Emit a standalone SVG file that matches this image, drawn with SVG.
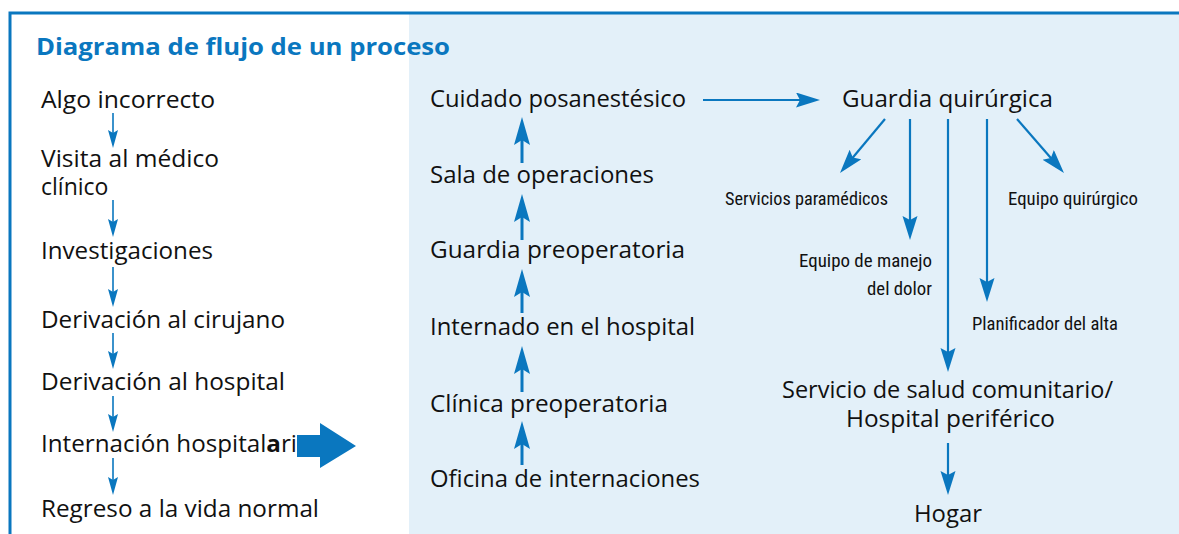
<svg xmlns="http://www.w3.org/2000/svg" width="1179" height="534" viewBox="0 0 1179 534">
<style>
.t{font-family:"Open Sans","Noto Sans","Liberation Sans",sans-serif;font-size:23px;fill:#111}
.s{font-family:"Liberation Sans Narrow","Roboto Condensed","Liberation Sans",sans-serif;font-size:19px;fill:#111}
.title{font-family:"Open Sans","Noto Sans","Liberation Sans",sans-serif;font-size:24px;font-weight:bold;fill:#0a77bf}
.thin{stroke:#0a77bf;stroke-width:1.6;fill:none}
.med{stroke:#0a77bf;stroke-width:2.2;fill:none}
.thick{stroke:#0a77bf;stroke-width:3;fill:none}
</style>
<defs>
<marker id="sm" markerUnits="userSpaceOnUse" markerWidth="18" markerHeight="10" refX="12" refY="5" orient="auto">
<path d="M0,0 L18,5 L0,10 L3,5 z" fill="#0a77bf"/>
</marker>
<marker id="bg" markerUnits="userSpaceOnUse" markerWidth="24" markerHeight="16" refX="14" refY="7.5" orient="auto">
<path d="M0,0 L24,7.5 L0,15 L4,7.5 z" fill="#0a77bf"/>
</marker>
<marker id="mid" markerUnits="userSpaceOnUse" markerWidth="28" markerHeight="16" refX="16" refY="8" orient="auto">
<path d="M0,0 L28,8 L0,16 L5,8 z" fill="#0a77bf"/>
</marker>
</defs>
<rect x="409" y="14" width="770" height="520" fill="#e3f0f9"/>
<path d="M10,534 L10,13 L1179,13" stroke="#0a77bf" stroke-width="3" fill="none"/>
<text class="title" x="36" y="55" textLength="414" lengthAdjust="spacingAndGlyphs">Diagrama de flujo de un proceso</text>

<g id="left-nodes">
<g id="n-algo"><text class="t" x="41" y="108" textLength="174" lengthAdjust="spacingAndGlyphs">Algo incorrecto</text></g>
<g id="n-visita"><text class="t" x="41" y="167" textLength="178" lengthAdjust="spacingAndGlyphs">Visita al médico</text><text class="t" x="41" y="195">clínico</text></g>
<g id="n-invest"><text class="t" x="41" y="259" textLength="172" lengthAdjust="spacingAndGlyphs">Investigaciones</text></g>
<g id="n-dercir"><text class="t" x="41" y="328" textLength="244" lengthAdjust="spacingAndGlyphs">Derivación al cirujano</text></g>
<g id="n-derhosp"><text class="t" x="41" y="390" textLength="244" lengthAdjust="spacingAndGlyphs">Derivación al hospital</text></g>
<g id="n-intern"><text class="t" x="41" y="452" textLength="256" lengthAdjust="spacingAndGlyphs">Internación hospital<tspan font-weight="bold">a</tspan>ri</text></g>
<g id="n-regreso"><text class="t" x="41" y="517" textLength="278" lengthAdjust="spacingAndGlyphs">Regreso a la vida normal</text></g>
</g>

<g id="mid-nodes">
<g id="n-cuidado"><text class="t" x="430" y="107" textLength="256" lengthAdjust="spacingAndGlyphs">Cuidado posanestésico</text></g>
<g id="n-sala"><text class="t" x="430" y="183" textLength="224" lengthAdjust="spacingAndGlyphs">Sala de operaciones</text></g>
<g id="n-guardiapre"><text class="t" x="430" y="258" textLength="255" lengthAdjust="spacingAndGlyphs">Guardia preoperatoria</text></g>
<g id="n-internado"><text class="t" x="430" y="335" textLength="265" lengthAdjust="spacingAndGlyphs">Internado en el hospital</text></g>
<g id="n-clinica"><text class="t" x="430" y="412" textLength="238" lengthAdjust="spacingAndGlyphs">Clínica preoperatoria</text></g>
<g id="n-oficina"><text class="t" x="430" y="487" textLength="270" lengthAdjust="spacingAndGlyphs">Oficina de internaciones</text></g>
</g>

<g id="right-nodes">
<g id="n-guardiaq"><text class="t" x="842" y="107" textLength="211" lengthAdjust="spacingAndGlyphs">Guardia quirúrgica</text></g>
<g id="n-servpara"><text class="s" x="725" y="205" textLength="163" lengthAdjust="spacingAndGlyphs">Servicios paramédicos</text></g>
<g id="n-equipoq"><text class="s" x="1008" y="205" textLength="130" lengthAdjust="spacingAndGlyphs">Equipo quirúrgico</text></g>
<g id="n-dolor"><text class="s" x="799" y="267" textLength="133" lengthAdjust="spacingAndGlyphs">Equipo de manejo</text><text class="s" x="867" y="295" textLength="65" lengthAdjust="spacingAndGlyphs">del dolor</text></g>
<g id="n-planif"><text class="s" x="972" y="330" textLength="146" lengthAdjust="spacingAndGlyphs">Planificador del alta</text></g>
<g id="n-servsalud"><text class="t" x="782" y="398" textLength="331" lengthAdjust="spacingAndGlyphs">Servicio de salud comunitario/</text><text class="t" x="846" y="427" textLength="209" lengthAdjust="spacingAndGlyphs">Hospital periférico</text></g>
<g id="n-hogar"><text class="t" x="914" y="522" textLength="68" lengthAdjust="spacingAndGlyphs">Hogar</text></g>
</g>

<g id="connectors">
<line class="thin" x1="113" y1="113" x2="113" y2="142" marker-end="url(#sm)"/>
<line class="thin" x1="113" y1="200" x2="113" y2="231" marker-end="url(#sm)"/>
<line class="thin" x1="113" y1="267" x2="113" y2="301" marker-end="url(#sm)"/>
<line class="thin" x1="113" y1="333" x2="113" y2="363" marker-end="url(#sm)"/>
<line class="thin" x1="113" y1="396" x2="113" y2="426" marker-end="url(#sm)"/>
<line class="thin" x1="113" y1="458" x2="113" y2="489" marker-end="url(#sm)"/>
<polygon points="297,435 320,435 320,423 356,446 320,468 320,457 297,457" fill="#0a77bf"/>
<line class="thick" x1="522" y1="163" x2="522" y2="129" marker-end="url(#mid)"/>
<line class="thick" x1="522" y1="240" x2="522" y2="206" marker-end="url(#mid)"/>
<line class="thick" x1="522" y1="313" x2="522" y2="281" marker-end="url(#mid)"/>
<line class="thick" x1="522" y1="392" x2="522" y2="358" marker-end="url(#mid)"/>
<line class="thick" x1="522" y1="465" x2="522" y2="433" marker-end="url(#mid)"/>
<line class="med" x1="703" y1="100" x2="810" y2="100" marker-end="url(#bg)"/>
<line class="med" x1="885" y1="119" x2="846.4" y2="165.3" marker-end="url(#bg)"/>
<line class="med" x1="910" y1="119" x2="910" y2="230" marker-end="url(#bg)"/>
<line class="med" x1="948" y1="119" x2="948" y2="362" marker-end="url(#bg)"/>
<line class="med" x1="987" y1="119" x2="987" y2="292" marker-end="url(#bg)"/>
<line class="med" x1="1017" y1="119" x2="1057.4" y2="165.5" marker-end="url(#bg)"/>
<line class="med" x1="948" y1="443" x2="948" y2="485" marker-end="url(#bg)"/>
</g>
</svg>
